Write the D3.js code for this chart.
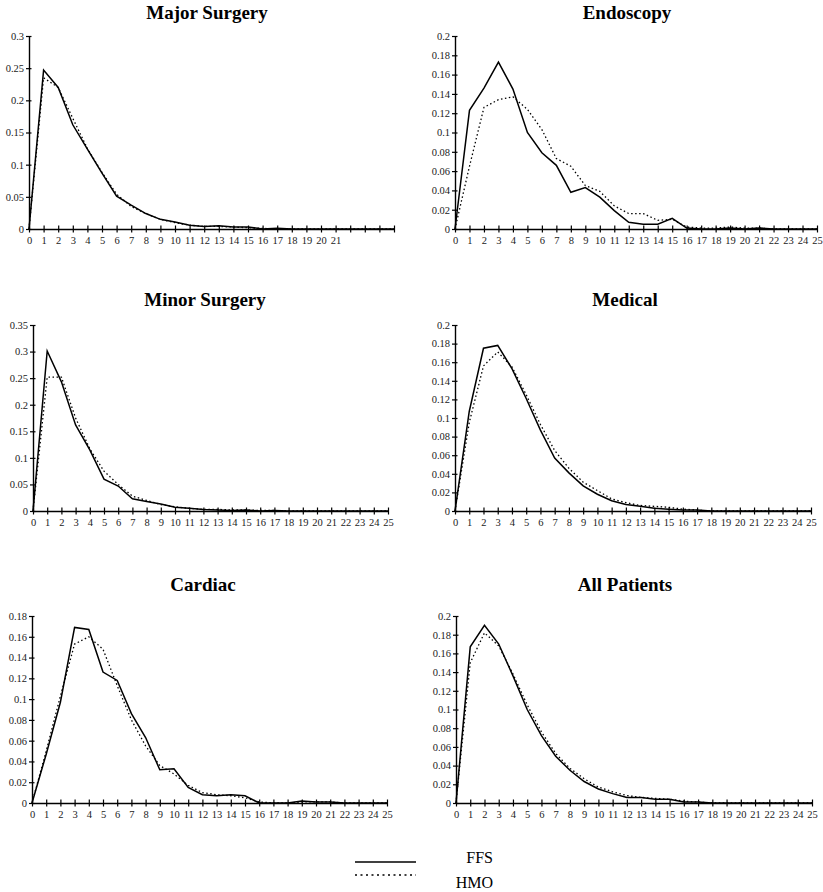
<!DOCTYPE html>
<html><head><meta charset="utf-8">
<script src="https://cdn.jsdelivr.net/npm/d3@7"></script>
<style>body{margin:0;background:#fff}svg{display:block}svg text{font-family:"Liberation Serif","Times New Roman",Times,serif !important}</style>
</head><body>
<svg id="c" width="823" height="892"></svg>
<script>
// ---- data ----
const days = d3.range(0, 26);
const titles = ["Major Surgery","Endoscopy","Minor Surgery","Medical","Cardiac","All Patients"];
const seriesNames = ["FFS","HMO"];
const xTickLabelsMajor = d3.range(0, 22).map(String);
const xTickLabelsFull = d3.range(0, 26).map(String);
const yMax = [0.3, 0.2, 0.35, 0.2, 0.18, 0.2];
const yStep = [0.05, 0.02, 0.05, 0.02, 0.02, 0.02];

const majorFFS = [0,0.247,0.220,0.162,0.124,0.087,0.051,0.037,0.024,0.015,0.011,0.006,0.004,0.005,0.003,0.003,0,0.001,0,0,0,0,0,0,0,0];
const majorHMO = [0,0.235,0.220,0.172,0.125,0.088,0.054,0.035,0.024,0.015,0.010,0.006,0.004,0.004,0.003,0.002,0.001,0,0,0,0,0,0,0,0,0];
const endoFFS  = [0,0.123,0.146,0.173,0.145,0.100,0.079,0.066,0.038,0.043,0.033,0.019,0.007,0.005,0.005,0.011,0.001,0,0,0.001,0,0.001,0,0,0,0];
const endoHMO  = [0,0.065,0.126,0.134,0.137,0.124,0.103,0.073,0.065,0.045,0.039,0.024,0.016,0.016,0.009,0.010,0.002,0.001,0.001,0.002,0.001,0.001,0,0,0,0];
const minorFFS = [0,0.301,0.243,0.162,0.115,0.060,0.047,0.023,0.018,0.013,0.007,0.005,0.003,0.002,0.001,0.002,0,0.001,0,0,0,0,0,0,0,0];
const minorHMO = [0,0.252,0.252,0.175,0.117,0.075,0.050,0.028,0.020,0.012,0.008,0.005,0.003,0.003,0.002,0.002,0.001,0.001,0,0,0,0,0,0,0,0];
const medFFS   = [0,0.107,0.175,0.178,0.153,0.121,0.087,0.057,0.041,0.027,0.018,0.011,0.007,0.005,0.003,0.002,0.001,0.001,0,0,0,0,0,0,0,0];
const medHMO   = [0,0.095,0.156,0.171,0.155,0.125,0.093,0.065,0.046,0.031,0.022,0.013,0.009,0.006,0.005,0.004,0.002,0.001,0,0,0,0,0,0,0,0];
const cardFFS  = [0,0.047,0.097,0.169,0.167,0.126,0.118,0.086,0.063,0.032,0.033,0.015,0.008,0.007,0.008,0.007,0,0,0,0.002,0.001,0.001,0,0,0,0];
const cardHMO  = [0,0.050,0.103,0.153,0.160,0.148,0.113,0.080,0.055,0.036,0.028,0.017,0.010,0.008,0.007,0.005,0.001,0,0,0.001,0.001,0.001,0,0,0,0];
const allFFS   = [0,0.167,0.190,0.170,0.136,0.100,0.072,0.050,0.035,0.023,0.015,0.010,0.006,0.006,0.004,0.004,0.001,0.001,0,0,0,0,0,0,0,0];
const allHMO   = [0,0.150,0.182,0.168,0.138,0.105,0.076,0.053,0.037,0.026,0.017,0.012,0.008,0.006,0.005,0.004,0.002,0.001,0,0,0,0,0,0,0,0];

const ffsSeries = [majorFFS, endoFFS, minorFFS, medFFS, cardFFS, allFFS];
const hmoSeries = [majorHMO, endoHMO, minorHMO, medHMO, cardHMO, allHMO];
const xLabelSets = [xTickLabelsMajor, xTickLabelsFull, xTickLabelsFull, xTickLabelsFull, xTickLabelsFull, xTickLabelsFull];

// ---- layout ----
const frames = [
  {x0:29, x1:394, yT:36,  yB:229, tx:207, ty:19},
  {x0:455,x1:817, yT:36,  yB:229, tx:627, ty:19},
  {x0:33, x1:388, yT:325, yB:511, tx:205, ty:306},
  {x0:455,x1:811, yT:325, yB:511, tx:625, ty:306},
  {x0:32, x1:387, yT:616, yB:803, tx:203, ty:591},
  {x0:456,x1:812, yT:616, yB:803, tx:625, ty:591}
];
const svg = d3.select("#c");

frames.forEach((f, i) => {
  const g = svg.append("g");
  const x = d3.scaleLinear().domain([0, 25]).range([f.x0, f.x1]);
  const y = d3.scaleLinear().domain([0, yMax[i]]).range([f.yB, f.yT]);

  g.append("text").attr("x", f.tx).attr("y", f.ty).attr("text-anchor","middle")
    .style("font-weight","bold").style("font-size","19px")
    .attr("fill","#000").text(titles[i]);

  // y axis
  const yTicks = d3.range(0, yMax[i] + yStep[i]/2, yStep[i]);
  const yAx = d3.axisLeft(y).tickValues(yTicks).tickSize(0).tickPadding(5)
    .tickFormat(v => d3.format(".2~f")(v));
  const ya = g.append("g").attr("transform", `translate(${f.x0},0)`).call(yAx);
  ya.select(".domain").attr("stroke","#000").attr("stroke-width",1.4);
  ya.selectAll(".tick text").style("font-size","10.5px").attr("fill","#222");
  ya.selectAll(".tick").append("line").attr("x1",-3).attr("x2",2.5).attr("stroke","#000").attr("stroke-width",1.2);

  // x axis
  const labels = xLabelSets[i];
  const xAx = d3.axisBottom(x).tickValues(days).tickSize(0).tickPadding(8)
    .tickFormat(d => labels[d] !== undefined ? labels[d] : "");
  const xa = g.append("g").attr("transform", `translate(0,${f.yB})`).call(xAx);
  xa.select(".domain").attr("stroke","#000").attr("stroke-width",1.4);
  xa.selectAll(".tick text").style("font-size","10.5px").attr("fill","#222");
  xa.selectAll(".tick").append("line").attr("y1",-3.5).attr("y2",3.5).attr("stroke","#000").attr("stroke-width",1.2);

  const line = d3.line().x((d, j) => x(days[j])).y(d => y(d));
  g.append("path").datum(hmoSeries[i]).attr("d", line).attr("fill","none")
    .attr("stroke","#000").attr("stroke-width",1.3).attr("stroke-dasharray","1.5,2.5");
  g.append("path").datum(ffsSeries[i]).attr("d", line).attr("fill","none")
    .attr("stroke","#000").attr("stroke-width",1.5);
});

// legend
const lg = svg.append("g");
const legendY = [862, 875];
seriesNames.forEach((n, k) => {
  lg.append("line").attr("x1",355).attr("x2",416).attr("y1",legendY[k]).attr("y2",legendY[k])
    .attr("stroke","#000").attr("stroke-width", 1.5)
    .attr("stroke-dasharray", k === 0 ? null : "2,3.5");
  lg.append("text").attr("x",493).attr("y", k === 0 ? 863 : 888).attr("text-anchor","end")
    .style("font-size","16px").attr("fill","#000").text(n);
});
</script>
</body></html>
